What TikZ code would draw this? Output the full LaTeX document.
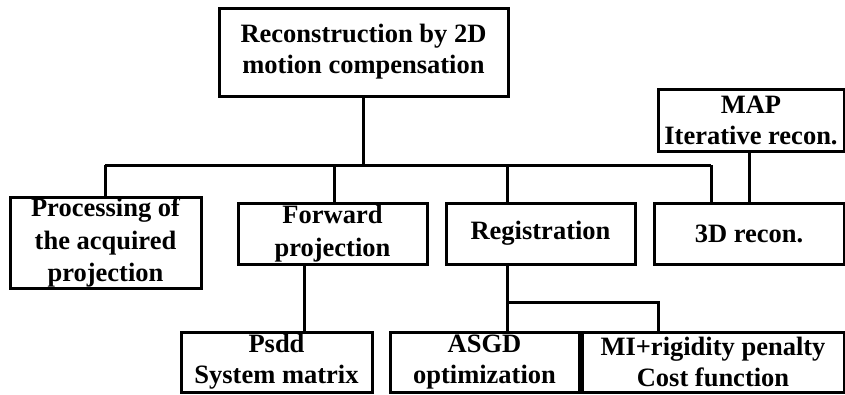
\documentclass[tikz,border=0pt]{standalone}
\usepackage{fontspec}
\setmainfont{Liberation Serif}
\begin{document}
\begin{tikzpicture}[x=1pt,y=-1pt,
  box/.style={draw, line width=3pt, inner sep=0pt, align=center,
    font=\bfseries\fontsize{26.5}{31}\selectfont},
  wide/.style={font=\bfseries\fontsize{26.5}{32.5}\selectfont},
  conn/.style={line width=3pt}]
\useasboundingbox (0,0) rectangle (845,394);
\node[box, minimum width=289pt, minimum height=88pt] (top) at (363.5,52) {Reconstruction by 2D\\motion compensation};
\node[box, minimum width=186pt, minimum height=62pt] (map) at (751,120) {MAP\\Iterative recon.};
\node[box, wide, minimum width=191pt, minimum height=91pt] (proc) at (105.5,242.5) {Processing of\\the acquired\\projection};
\node[box, wide, minimum width=189pt, minimum height=61pt] (fwd) at (332.5,233.5) {Forward\\projection};
\node[box, minimum width=189pt, minimum height=61pt] (reg) at (540.5,233.5) {Registration};
\node[box, minimum width=190pt, minimum height=61pt] (rec) at (749,233.5) {3D recon.};
\node[box, minimum width=191pt, minimum height=60pt] (psdd) at (276.5,362) {Psdd\\System matrix};
\node[box, minimum width=189pt, minimum height=60pt] (asgd) at (484.5,362) {ASGD\\optimization};
\node[box, minimum width=262pt, minimum height=60pt] (mi) at (713,362) {MI+rigidity penalty\\Cost function};
\coordinate (busL) at (105,165);
\coordinate (busR) at (711,165);
\coordinate (busF) at (334,165);
\coordinate (busG) at (507,165);
\coordinate (brA) at (507,302);
\coordinate (brB) at (658,302);
\draw[conn] (busL) -- (busR);
\draw[conn] (top.south) -- (top.south|-busL);
\draw[conn] (busL) -- (busL|-proc.north);
\draw[conn] (busF) -- (busF|-fwd.north);
\draw[conn] (busG) -- (busG|-reg.north);
\draw[conn] (busR) -- (busR|-rec.north);
\draw[conn] ([xshift=-2pt]map.south) -- ([xshift=-2pt]map.south|-rec.north);
\draw[conn] ([xshift=-28.5pt]fwd.south) -- ([xshift=-28.5pt]fwd.south|-psdd.north);
\draw[conn] (brA|-reg.south) -- (brA|-asgd.north);
\draw[conn] (brA) -- (brB) -- (brB|-mi.north);
\end{tikzpicture}
\end{document}
